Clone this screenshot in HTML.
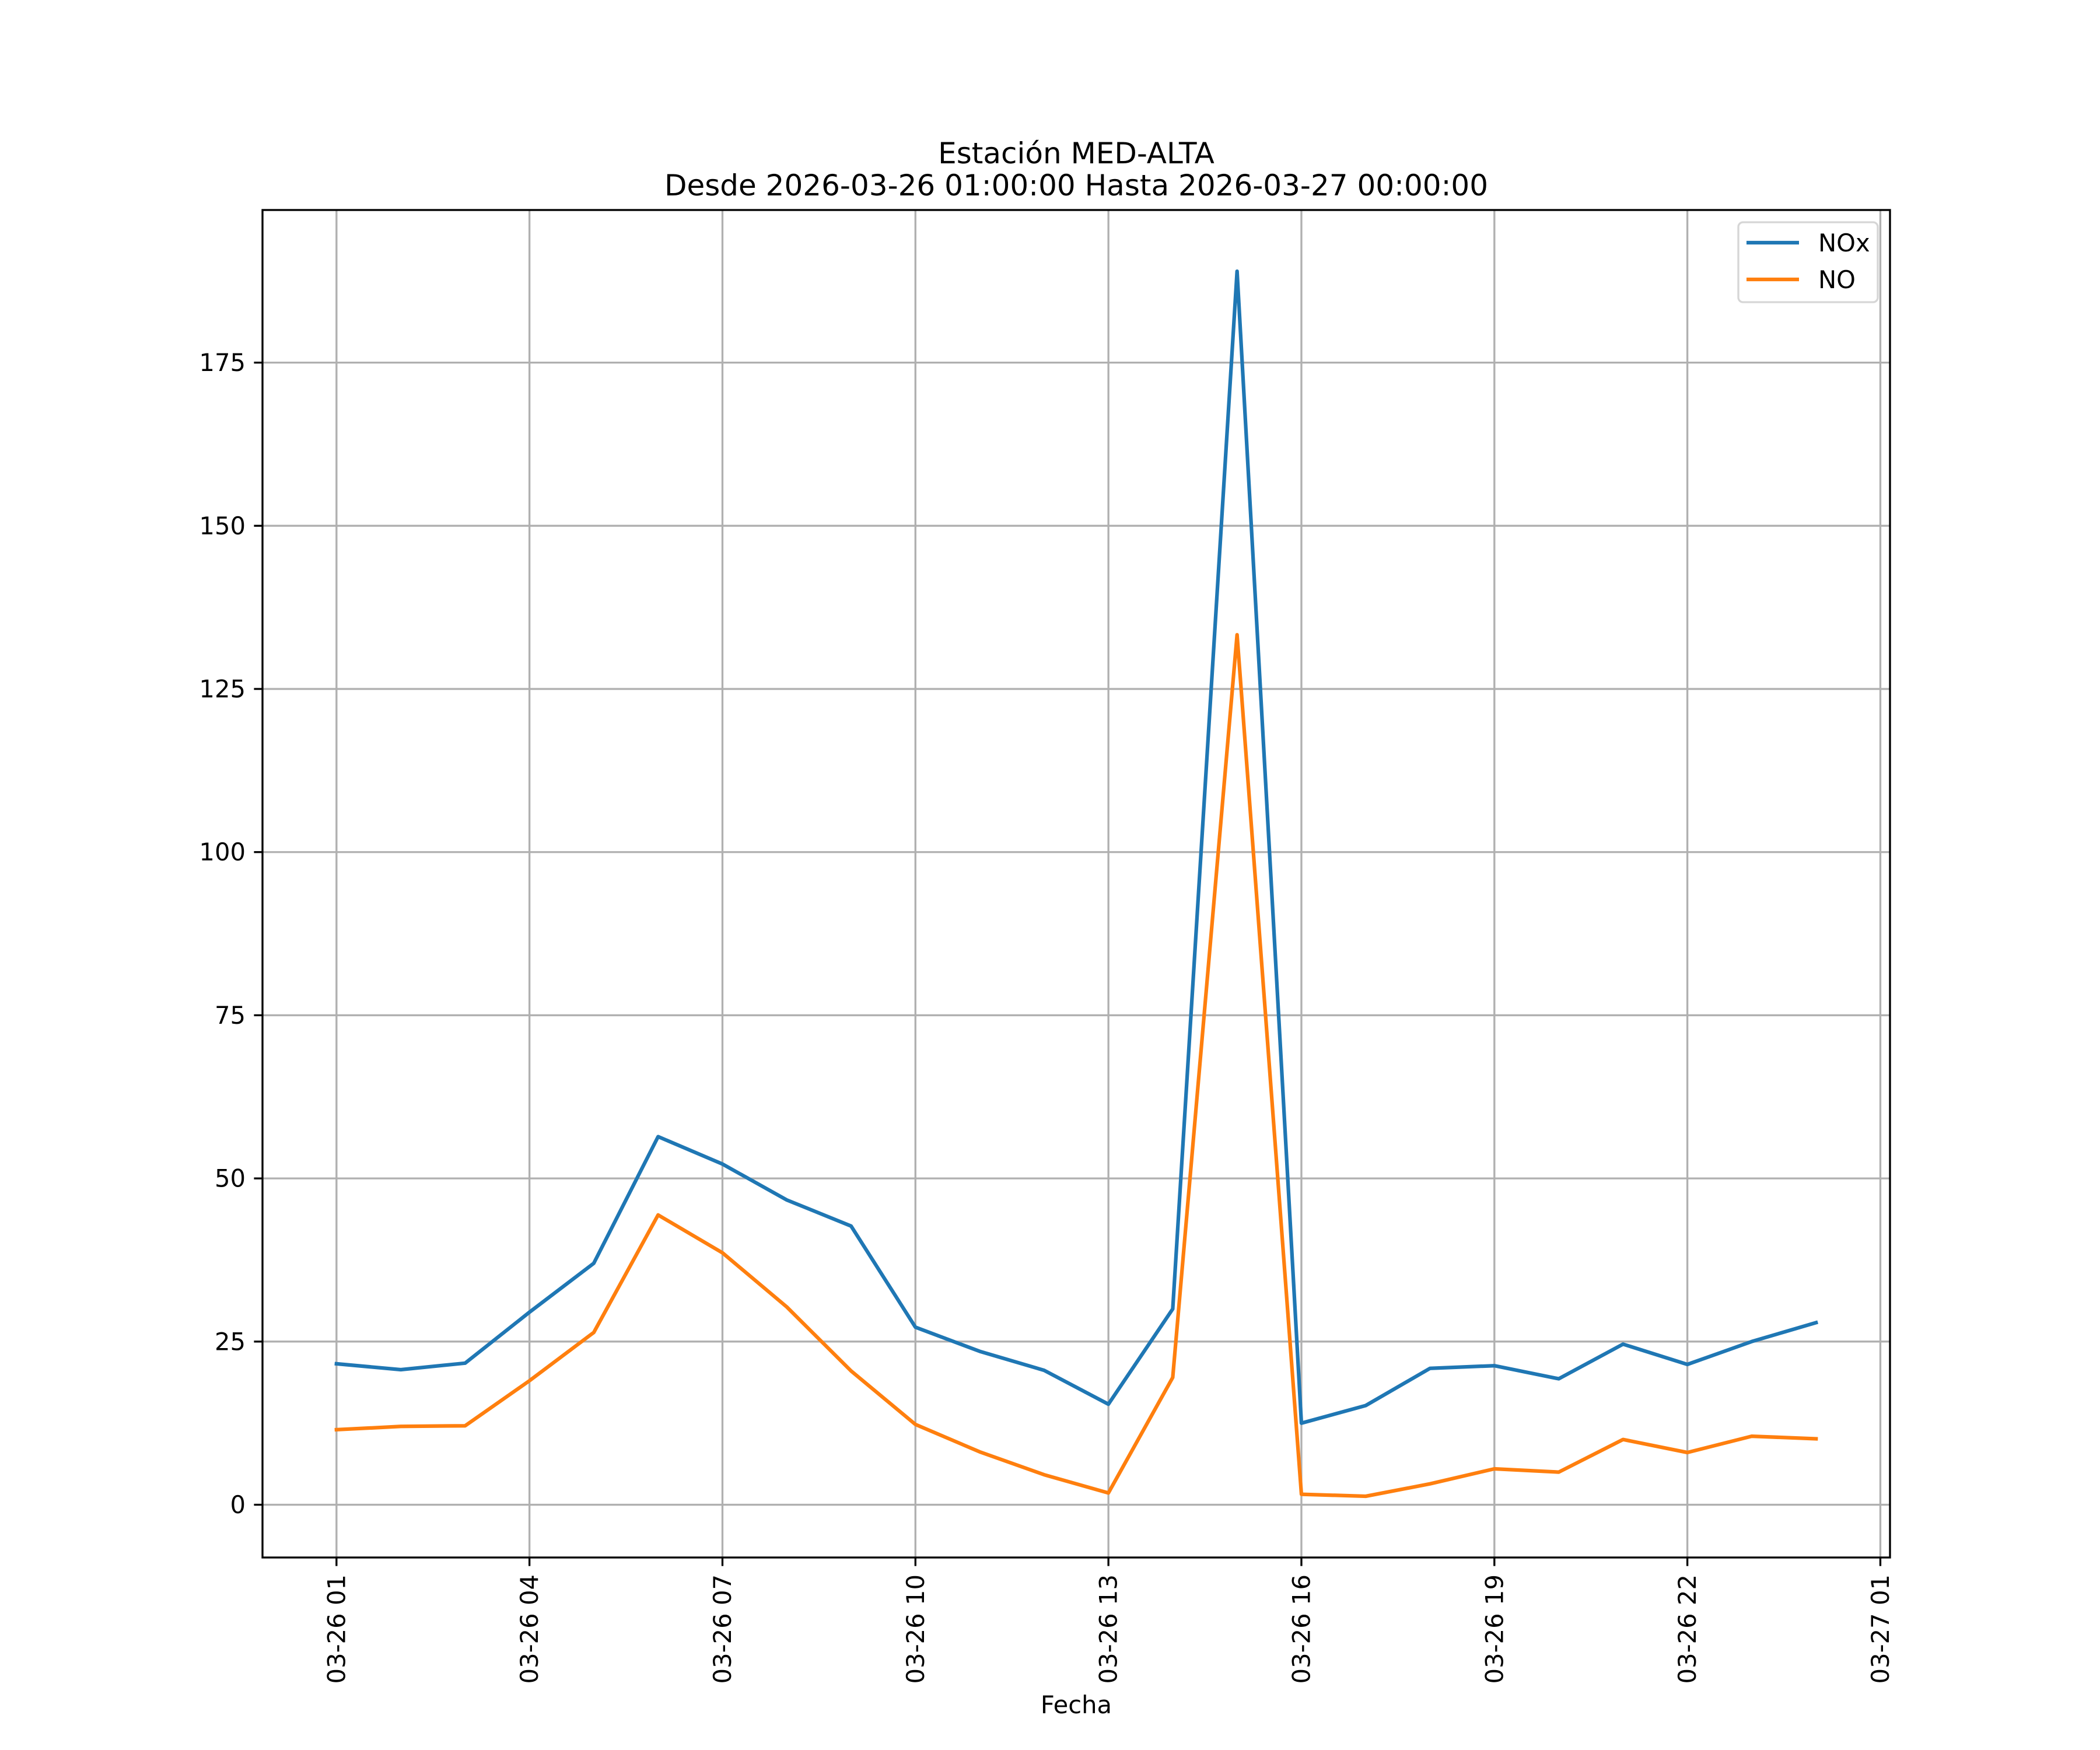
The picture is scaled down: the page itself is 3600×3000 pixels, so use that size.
<!DOCTYPE html>
<html><head><meta charset="utf-8"><style>
html,body{margin:0;padding:0;background:#fff}
svg{display:block;font-family:"DejaVu Sans","Liberation Sans",sans-serif}
</style></head><body>
<svg id="chart" width="3600" height="3000" viewBox="0 0 3600 3000" xmlns="http://www.w3.org/2000/svg">
<rect width="3600" height="3000" fill="#fff"/>
<g id="grid"></g>
<g id="series"></g>
<rect x="450" y="360" width="2790" height="2310" fill="none" stroke="#000" stroke-width="3.33"/>
<g id="ticks"></g>
<text x="1845" y="280" font-size="50" text-anchor="middle">Estación MED-ALTA</text>
<text x="1845" y="335" font-size="50" text-anchor="middle">Desde 2026-03-26 01:00:00 Hasta 2026-03-27 00:00:00</text>
<text x="1845" y="2937" font-size="41.7" text-anchor="middle">Fecha</text>
<g>
<rect x="2980" y="381" width="239" height="137" rx="8" fill="#fff" fill-opacity="0.8" stroke="#d6d6d6" stroke-width="3.33"/>
<line x1="2994" y1="416" x2="3084" y2="416" stroke="#1f77b4" stroke-width="6.25"/>
<text x="3117" y="431" font-size="41.7">NOx</text>
<line x1="2994" y1="479" x2="3084" y2="479" stroke="#ff7f0e" stroke-width="6.25"/>
<text x="3117" y="494" font-size="41.7">NO</text>
</g>
</svg>
<script>
const hours = [1,2,3,4,5,6,7,8,9,10,11,12,13,14,15,16,17,18,19,20,21,22,23,24];
const noxValues = [21.6,20.7,21.7,29.5,37,56.4,52.2,46.7,42.7,27.2,23.5,20.6,15.4,30,189,12.5,15.2,20.9,21.3,19.3,24.6,21.5,25,27.9];
const noValues = [11.5,12,12.1,19,26.4,44.4,38.6,30.3,20.5,12.3,8.1,4.6,1.8,19.5,133.3,1.6,1.3,3.2,5.5,5,10,8,10.5,10.1];
const yTicks = [0,25,50,75,100,125,150,175];
const xTickHours = [1,4,7,10,13,16,19,22,25];
const xTickLabels = ["03-26 01","03-26 04","03-26 07","03-26 10","03-26 13","03-26 16","03-26 19","03-26 22","03-27 01"];

const NS="http://www.w3.org/2000/svg";
const L=450,R=3240,T=360,B=2670;
const allV=noxValues.concat(noValues);
const vmin=Math.min(...allV),vmax=Math.max(...allV),vr=vmax-vmin;
const y0=vmin-0.05*vr,y1=vmax+0.05*vr;
const hmin=Math.min(...hours),hmax=Math.max(...hours),hr=hmax-hmin;
const x0=hmin-0.05*hr,x1=hmax+0.05*hr;
const xs=h=>L+(h-x0)/(x1-x0)*(R-L);
const ys=v=>B-(v-y0)/(y1-y0)*(B-T);
function mk(tag,attrs,parent){const e=document.createElementNS(NS,tag);for(const k in attrs)e.setAttribute(k,attrs[k]);parent.appendChild(e);return e;}
const grid=document.getElementById('grid'),ticks=document.getElementById('ticks'),series=document.getElementById('series');
yTicks.forEach(v=>{
  const y=ys(v);
  const g=mk('line',{x1:L,x2:R,y1:y,y2:y,stroke:'#b0b0b0','stroke-width':3.33},grid);
  
  
  const t=mk('line',{x1:L-14.6,x2:L,y1:y,y2:y,stroke:'#000','stroke-width':3.33},ticks);
  
  
  const lb=mk('text',{x:L-29,y:y,'font-size':41.7,'text-anchor':'end','dominant-baseline':'central'},ticks);
  lb.textContent=v;
  
  
});
xTickHours.forEach((h,i)=>{
  const x=xs(h);
  const g=mk('line',{x1:x,x2:x,y1:T,y2:B,stroke:'#b0b0b0','stroke-width':3.33},grid);
  
  
  const t=mk('line',{x1:x,x2:x,y1:B,y2:B+14.6,stroke:'#000','stroke-width':3.33},ticks);
  
  
  const lb=mk('text',{x:0,y:0,'font-size':41.7,'text-anchor':'end','dominant-baseline':'central',transform:`translate(${x},${B+29}) rotate(-90)`},ticks);
  lb.textContent=xTickLabels[i];
  
  
});
function line(vals,color,name){
  const p=vals.map((v,i)=>xs(hours[i]).toFixed(1)+','+ys(v).toFixed(1)).join(' ');
  const e=mk('polyline',{points:p,fill:'none',stroke:color,'stroke-width':6.25,'stroke-linejoin':'round','stroke-linecap':'square'},series);
  
  
}
line(noxValues,'#1f77b4','nox-line');
line(noValues,'#ff7f0e','no-line');
</script>
</body></html>
